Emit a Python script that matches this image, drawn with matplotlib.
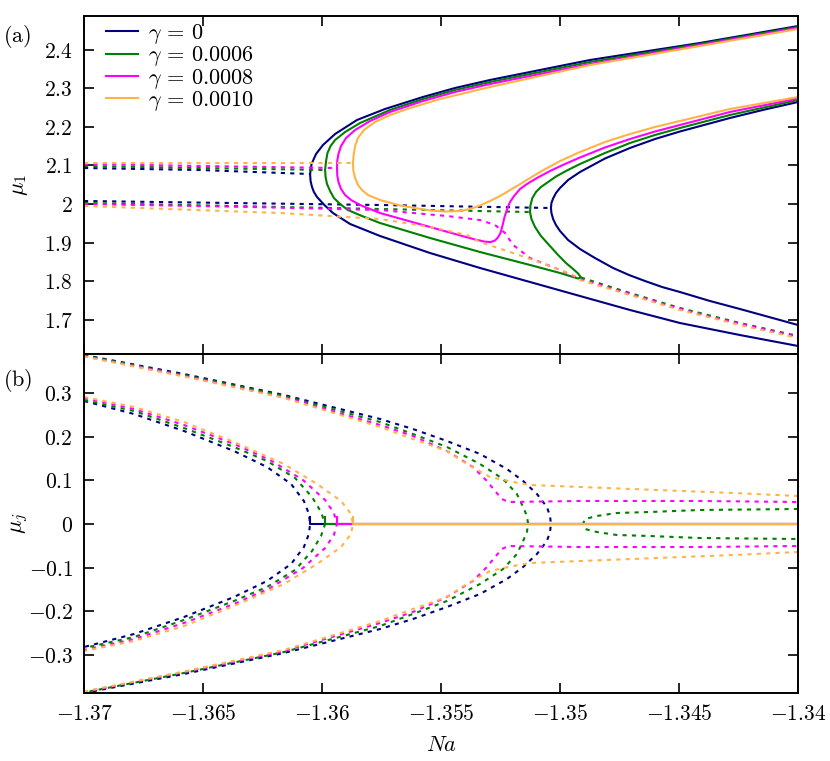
import matplotlib
matplotlib.use('Agg')
import numpy as np
import matplotlib.pyplot as plt
from matplotlib.ticker import FixedLocator, FuncFormatter

plt.rcParams['mathtext.fontset'] = 'cm'
plt.rcParams['axes.linewidth'] = 1.4

gammas = ['0', '0.0006', '0.0008', '0.0010']
colors = ['#000080', '#008000', '#ff00ff', '#ffb347']

x_ticks = [-1.37, -1.365, -1.36, -1.355, -1.35, -1.345, -1.34]
a_ticks = [1.7, 1.8, 1.9, 2.0, 2.1, 2.2, 2.3, 2.4]
b_ticks = [-0.3, -0.2, -0.1, 0.0, 0.1, 0.2, 0.3]

# ---- panel (a): mu_1 ----
# gamma = 0, two separate stable branches
g0_outer_x = [-1.34, -1.34412, -1.34874, -1.35294, -1.35441, -1.35576, -1.35735, -1.35853, -1.35945, -1.35996,
              -1.36025, -1.36044, -1.36050, -1.36048, -1.36042, -1.36034, -1.36021, -1.35990, -1.35954, -1.35882,
              -1.35756, -1.35546, -1.35336, -1.35126, -1.34916, -1.34706, -1.34496, -1.34244, -1.34]
g0_outer_y = [2.4623, 2.4182, 2.3740, 2.3221, 2.3013, 2.2779, 2.2468, 2.2182, 2.1818, 2.1532,
              2.1299, 2.1039, 2.0779, 2.0597, 2.0442, 2.0312, 2.0182, 1.9974, 1.9766, 1.9481,
              1.9169, 1.8727, 1.8338, 1.7974, 1.7610, 1.7247, 1.6909, 1.6597, 1.6312]
g0_inner_x = [-1.34, -1.34139, -1.34286, -1.34496, -1.34601, -1.34706, -1.34811, -1.34916, -1.34966,
              -1.35000, -1.35017, -1.35029, -1.35036, -1.35038, -1.35036, -1.35029, -1.35017, -1.35000,
              -1.34966, -1.34916, -1.34853, -1.34777, -1.34710, -1.34643, -1.34571, -1.34496, -1.34370,
              -1.34244, -1.34]
g0_inner_y = [2.2649, 2.2455, 2.2234, 2.1883, 2.1688, 2.1455, 2.1182, 2.0831, 2.0623,
              2.0416, 2.0286, 2.0143, 2.0026, 1.9896, 1.9766, 1.9610, 1.9455, 1.9299,
              1.9065, 1.8831, 1.8597, 1.8338, 1.8156, 1.8000, 1.7844, 1.7714, 1.7481,
              1.7273, 1.6857]
g0_dash_up_x = [-1.37, -1.36513, -1.36050]
g0_dash_up_y = [2.0935, 2.0883, 2.0779]
g0_dash_lo_x = [-1.37, -1.35756, -1.35038]
g0_dash_lo_y = [2.0078, 1.9974, 1.9896]

# gamma = 0.0006
g1_solid_x = [-1.34, -1.34412, -1.34874, -1.35294, -1.35441, -1.35576, -1.35714, -1.35840, -1.35903,
              -1.35945, -1.35964, -1.35977, -1.35983, -1.35987, -1.35985, -1.35979, -1.35966, -1.35950,
              -1.35924, -1.35891, -1.35832, -1.35756, -1.35546, -1.35336, -1.35126, -1.35000, -1.34945,
              -1.34924, -1.34912, -1.34924, -1.34945, -1.34975, -1.35008, -1.35046, -1.35080, -1.35105,
              -1.35120, -1.35126, -1.35124, -1.35116, -1.35101, -1.35080, -1.35050, -1.35017, -1.34971,
              -1.34916, -1.34811, -1.34706, -1.34601, -1.34496, -1.34286, -1.34]
g1_solid_y = [2.4597, 2.4156, 2.3688, 2.3169, 2.2961, 2.2727, 2.2442, 2.2104, 2.1870,
              2.1662, 2.1506, 2.1325, 2.1117, 2.0883, 2.0701, 2.0519, 2.0338, 2.0156,
              2.0000, 1.9844, 1.9688, 1.9506, 1.9117, 1.8753, 1.8416, 1.8208, 1.8104,
              1.8065, 1.8091, 1.8195, 1.8312, 1.8468, 1.8675, 1.8935, 1.9169, 1.9403,
              1.9610, 1.9792, 1.9974, 2.0156, 2.0312, 2.0442, 2.0571, 2.0714, 2.0870,
              2.1039, 2.1325, 2.1584, 2.1792, 2.1974, 2.2312, 2.2701]
g1_dash_up_x = [-1.37, -1.36513, -1.35987]
g1_dash_up_y = [2.0987, 2.0935, 2.0883]
g1_dash_lo_x = [-1.37, -1.35756, -1.35126]
g1_dash_lo_y = [2.0026, 1.9870, 1.9792]
g1_tail_x = [-1.34912, -1.34706, -1.34496, -1.34244, -1.34]
g1_tail_y = [1.8091, 1.7688, 1.7299, 1.6909, 1.6571]

# gamma = 0.0008
g2_solid_x = [-1.34, -1.34412, -1.34874, -1.35294, -1.35441, -1.35576, -1.35714, -1.35798, -1.35861,
              -1.35899, -1.35920, -1.35931, -1.35936, -1.35937, -1.35936, -1.35931, -1.35920, -1.35903,
              -1.35878, -1.35840, -1.35756, -1.35651, -1.35546, -1.35441, -1.35357, -1.35315, -1.35290,
              -1.35273, -1.35261, -1.35250, -1.35242, -1.35233, -1.35222, -1.35210, -1.35193, -1.35168,
              -1.35139, -1.35097, -1.35042, -1.34979, -1.34916, -1.34811, -1.34706, -1.34601, -1.34496,
              -1.34286, -1.34]
g2_solid_y = [2.4571, 2.4130, 2.3636, 2.3117, 2.2909, 2.2675, 2.2390, 2.2156, 2.1922,
              2.1714, 2.1506, 2.1299, 2.1117, 2.0935, 2.0753, 2.0571, 2.0390, 2.0234,
              2.0104, 1.9974, 1.9766, 1.9584, 1.9403, 1.9221, 1.9078, 1.9021, 1.9013,
              1.9052, 1.9130, 1.9247, 1.9429, 1.9662, 1.9870, 2.0052, 2.0208, 2.0390,
              2.0519, 2.0675, 2.0857, 2.1039, 2.1208, 2.1468, 2.1688, 2.1883, 2.2052,
              2.2390, 2.2740]
g2_dash_up_x = [-1.37, -1.36513, -1.35937]
g2_dash_up_y = [2.1039, 2.0987, 2.0935]
g2_dash_lo_x = [-1.37, -1.36303, -1.35756, -1.35475, -1.35336, -1.35273, -1.35231, -1.35197,
                -1.35126, -1.35, -1.34916, -1.34706, -1.34496, -1.34244, -1.34]
g2_dash_lo_y = [2.0, 1.9922, 1.9844, 1.9688, 1.9584, 1.9455, 1.9247, 1.8935,
                1.8597, 1.8286, 1.8052, 1.7662, 1.7273, 1.6883, 1.6545]

# gamma = 0.0010
g3_solid_x = [-1.34, -1.34412, -1.34874, -1.35294, -1.35504, -1.35630, -1.35714, -1.35777, -1.35824,
              -1.35849, -1.35861, -1.35867, -1.35870, -1.35868, -1.35861, -1.35849, -1.35832, -1.35807,
              -1.35756, -1.35672, -1.35546, -1.35483, -1.35420, -1.35378, -1.35336, -1.35294, -1.35252,
              -1.35181, -1.35084, -1.35000, -1.34916, -1.34811, -1.34706, -1.34601, -1.34496, -1.34286,
              -1.34]
g3_solid_y = [2.4545, 2.4104, 2.3610, 2.3039, 2.2727, 2.2494, 2.2312, 2.2130, 2.1922,
              2.1714, 2.1506, 2.1273, 2.1065, 2.0857, 2.0675, 2.0494, 2.0364, 2.0234,
              2.0104, 1.9961, 1.9831, 1.9805, 1.9818, 1.9870, 1.9961, 2.0078, 2.0208,
              2.0468, 2.0831, 2.1117, 2.1351, 2.1610, 2.1818, 2.2000, 2.2156, 2.2468,
              2.2779]
g3_dash_up_x = [-1.37, -1.35870]
g3_dash_up_y = [2.1065, 2.1065]
g3_dash_lo_x = [-1.37, -1.36176, -1.35756, -1.35546, -1.35391, -1.35336, -1.35197, -1.35055,
                -1.34945, -1.34916, -1.34706, -1.34496, -1.34244, -1.34]
g3_dash_lo_y = [1.9948, 1.9766, 1.9610, 1.9403, 1.9195, 1.9013, 1.8727, 1.8416,
                1.8156, 1.8026, 1.7636, 1.7247, 1.6857, 1.6519]

# ---- panel (b): mu_j, upper halves (curves are symmetric about 0) ----
b_outer_x = [
    [-1.37, -1.36580, -1.36160, -1.35756, -1.35618, -1.35475, -1.35336, -1.35223, -1.35155,
     -1.35097, -1.35055, -1.35042, -1.35038],
    [-1.37, -1.36580, -1.36160, -1.35756, -1.35618, -1.35475, -1.35336, -1.35239, -1.35181,
     -1.35155, -1.35139, -1.35134],
    [-1.37, -1.36580, -1.36160, -1.35756, -1.35618, -1.35475, -1.35366, -1.35307, -1.35273,
     -1.35244, -1.35218, -1.34916, -1.34412, -1.34],
    [-1.37, -1.36580, -1.36160, -1.35756, -1.35618, -1.35475, -1.35391, -1.35294, -1.35197,
     -1.35126, -1.34916, -1.34273, -1.34],
]
b_outer_y = [
    [0.3885, 0.3448, 0.2966, 0.2414, 0.2184, 0.1908, 0.1609, 0.1264, 0.0989,
     0.0690, 0.0391, 0.0184, 0.0],
    [0.3874, 0.3425, 0.2943, 0.2345, 0.2069, 0.1770, 0.1379, 0.1034, 0.0690,
     0.0391, 0.0184, 0.0],
    [0.3862, 0.3402, 0.2920, 0.2276, 0.2023, 0.1678, 0.1310, 0.0989, 0.0759,
     0.0575, 0.0506, 0.0529, 0.0529, 0.0506],
    [0.3851, 0.3391, 0.2897, 0.2230, 0.1954, 0.1678, 0.1379, 0.1080, 0.0966,
     0.0897, 0.0851, 0.0713, 0.0644],
]
b_inner_x = [
    [-1.37, -1.36790, -1.36580, -1.36370, -1.36231, -1.36130, -1.36076, -1.36055, -1.36050],
    [-1.37, -1.36790, -1.36580, -1.36370, -1.36231, -1.36113, -1.36042, -1.36004, -1.35987],
    [-1.37, -1.36790, -1.36580, -1.36370, -1.36218, -1.36080, -1.35987, -1.35950, -1.35937],
    [-1.37, -1.36790, -1.36580, -1.36370, -1.36160, -1.36021, -1.35920, -1.35878, -1.35870],
]
b_inner_y = [
    [0.2828, 0.2529, 0.2138, 0.1678, 0.1310, 0.0920, 0.0529, 0.0230, 0.0],
    [0.2851, 0.2598, 0.2207, 0.1770, 0.1448, 0.1057, 0.0621, 0.0276, 0.0],
    [0.2897, 0.2644, 0.2276, 0.1839, 0.1471, 0.1011, 0.0552, 0.0253, 0.0],
    [0.2920, 0.2690, 0.2345, 0.1885, 0.1379, 0.0920, 0.0529, 0.0230, 0.0],
]
g1_right_x = [-1.34903, -1.34895, -1.34845, -1.34761, -1.34622, -1.34412, -1.34]
g1_right_y = [0.0, 0.0115, 0.0184, 0.0253, 0.0276, 0.0322, 0.0345]
turn_x = [-1.36050, -1.35987, -1.35937, -1.35870]

DASH = (0, (2, 2.5))
LW = 1.5

fig = plt.figure(figsize=(8.3, 7.61), dpi=100)
ax1 = fig.add_axes([84 / 830, 1 - 354 / 761, 714 / 830, 338 / 761])
ax2 = fig.add_axes([84 / 830, 1 - 693 / 761, 714 / 830, 339 / 761])

solid_a = [[(g0_outer_x, g0_outer_y), (g0_inner_x, g0_inner_y)],
           [(g1_solid_x, g1_solid_y)],
           [(g2_solid_x, g2_solid_y)],
           [(g3_solid_x, g3_solid_y)]]
dash_a = [[(g0_dash_up_x, g0_dash_up_y), (g0_dash_lo_x, g0_dash_lo_y)],
          [(g1_dash_up_x, g1_dash_up_y), (g1_dash_lo_x, g1_dash_lo_y), (g1_tail_x, g1_tail_y)],
          [(g2_dash_up_x, g2_dash_up_y), (g2_dash_lo_x, g2_dash_lo_y)],
          [(g3_dash_up_x, g3_dash_up_y), (g3_dash_lo_x, g3_dash_lo_y)]]

for i, c in enumerate(colors):
    for x, y in dash_a[i]:
        ax1.plot(x, y, color=c, lw=LW, ls=DASH)
    for k, (x, y) in enumerate(solid_a[i]):
        lab = r'$\gamma\,=\,\mathrm{%s}$' % gammas[i] if k == 0 else None
        ax1.plot(x, y, color=c, lw=LW, label=lab)

for i, c in enumerate(colors):
    ox, oy = np.array(b_outer_x[i]), np.array(b_outer_y[i])
    ix, iy = np.array(b_inner_x[i]), np.array(b_inner_y[i])
    if oy[-1] == 0.0:
        ax2.plot(np.r_[ox, ox[::-1]], np.r_[oy, -oy[::-1]], color=c, lw=LW, ls=DASH)
    else:
        ax2.plot(ox, oy, color=c, lw=LW, ls=DASH)
        ax2.plot(ox, -oy, color=c, lw=LW, ls=DASH)
    ax2.plot(np.r_[ix, ix[::-1]], np.r_[iy, -iy[::-1]], color=c, lw=LW, ls=DASH)
    if i == 1:
        rx, ry = np.array(g1_right_x), np.array(g1_right_y)
        ax2.plot(np.r_[rx[::-1], rx], np.r_[ry[::-1], -ry], color=c, lw=LW, ls=DASH)
    ax2.plot([turn_x[i], turn_x[i], -1.34], [0.016, 0.0, 0.0], color=c, lw=LW)

fmt = FuncFormatter(lambda v, p: r'$\mathrm{%g}$' % v)
for ax in (ax1, ax2):
    ax.set_xlim(-1.37, -1.34)
    ax.xaxis.set_major_locator(FixedLocator(x_ticks))
    ax.xaxis.set_major_formatter(fmt)
    ax.yaxis.set_major_formatter(fmt)
    ax.tick_params(direction='in', top=True, right=True, length=7, width=1.2,
                   labelsize=15.5, pad=8)
    ax.minorticks_off()

ax1.set_ylim(1.6104, 2.4883)
ax1.yaxis.set_major_locator(FixedLocator(a_ticks))
ax1.tick_params(labelbottom=False)
ax2.set_ylim(-0.3885, 0.3908)
ax2.yaxis.set_major_locator(FixedLocator(b_ticks))

ax1.set_ylabel(r'$\mu_1$', fontsize=16)
ax2.set_ylabel(r'$\mu_j$', fontsize=16)
ax1.yaxis.set_label_coords(-0.076, 0.5)
ax2.yaxis.set_label_coords(-0.076, 0.5)
ax2.set_xlabel(r'$Na$', fontsize=16, labelpad=8)

fig.text(3 / 830, 1 - 36 / 761, r'$\mathrm{(a)}$', fontsize=16, va='center', ha='left')
fig.text(3 / 830, 1 - 380 / 761, r'$\mathrm{(b)}$', fontsize=16, va='center', ha='left')

ax1.legend(loc='upper left', bbox_to_anchor=(0.0308, 0.982), frameon=False, fontsize=16,
           labelspacing=-0.08, handlelength=1.45, handletextpad=0.45, borderpad=0, borderaxespad=0)

fig.savefig('out.png', dpi=100)
